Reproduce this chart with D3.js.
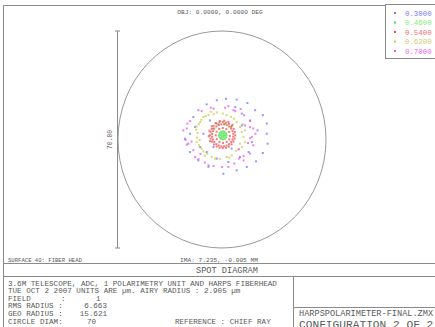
<!DOCTYPE html>
<html>
<head>
<meta charset="utf-8">
<script src="https://cdn.jsdelivr.net/npm/d3@7"></script>
<style>
	html, body { margin: 0; padding: 0; background: #fff; }
	text { font-family: "Liberation Mono", "DejaVu Sans Mono", monospace; fill: #5a5a5a; }
</style>
</head>
<body>
<script>
// wavelengths (um) shown in the legend
const wavelengths = [0.3, 0.46, 0.54, 0.62, 0.7];

// spot positions in um, relative to the chief ray
const spot300 = [
	[1.1, 11.8], [4.7, 11.5], [8.3, 10.4], [-2.0, 11.3], [-5.4, 10.0], [-8.2, 8.1],
	[-9.9, 5.9], [13.5, 6.5], [14.8, 3.8], [6.4, 7.0], [4.2, 9.1], [-11.6, -2.7],
	[-11.0, -5.4], [-8.2, -8.1], [-4.8, -9.7], [4.7, -11.3], [8.1, -10.2], [11.2, -8.4],
	[13.5, -5.7], [15.1, -2.7], [-6.5, 0.5], [-9.3, 2.7], [9.2, 4.8], [11.7, 1.6],
	[9.8, -2.2], [8.7, -5.4], [5.8, -7.0], [1.9, -8.6], [-2.0, -7.5], [-5.4, -5.4],
	[-7.6, -3.8], [0.2, -12.4], [10.9, 8.1], [-11.0, 0.5], [-4.3, 4.8], [6.4, 3.2],
	[3.0, -4.3], [-3.1, -3.8], [-12.7, -1.1], [14.8, 0.5]
];
const spot460 = [
	[0, 0], [0.7, 0], [0.35, 0.61], [-0.35, 0.61], [-0.7, 0], [-0.35, -0.61], [0.35, -0.61],
	[1.3, 0], [1.13, 0.65], [0.65, 1.13], [0, 1.3], [-0.65, 1.13], [-1.13, 0.65],
	[-1.3, 0], [-1.13, -0.65], [-0.65, -1.13], [0, -1.3], [0.65, -1.13], [1.13, -0.65],
	[-1.5, 3.6], [0.8, 3.8], [2.8, 2.6], [-3.2, 2.2]
];
const spot540 = [
	[4.2, 0], [4.06, 1.06], [3.7, 2.1], [3.0, 3.0], [2.1, 3.7], [1.06, 4.1],
	[0, 4.3], [-1.1, 4.2], [-2.1, 3.8], [-3.05, 3.05], [-3.7, 2.1], [-4.1, 1.1],
	[-4.3, 0], [-4.1, -1.06], [-3.65, -2.05], [-2.95, -2.95], [-2.05, -3.6], [-1.06, -4.0],
	[0, -4.1], [1.06, -4.0], [2.05, -3.6], [2.95, -2.9], [3.6, -2.0], [4.0, -1.06],
	[3.55, 0.45], [3.3, 1.35], [2.85, 2.15], [2.15, 2.85], [1.35, 3.3], [0.45, 3.55],
	[-0.45, 3.55], [-1.35, 3.3], [-2.15, 2.85], [-2.85, 2.15], [-3.3, 1.35], [-3.55, 0.45],
	[-3.55, -0.45], [-3.3, -1.35], [-2.85, -2.15], [-2.15, -2.85], [-1.35, -3.3], [-0.45, -3.55],
	[0.45, -3.55], [1.35, -3.3], [2.15, -2.85], [2.85, -2.15], [3.3, -1.35], [3.55, -0.45],
	[-4.5, 1.5], [-3.7, 2.9], [-2.4, 4.0], [-1.0, 4.6], [0.5, 4.7], [-4.7, -0.3],
	[-4.3, -1.9], [1.9, 4.3], [3.3, 3.4],
	[2.4, -0.2], [2.1, 1.1], [1.2, 2.0], [0, 2.35], [-1.2, 2.05], [-2.05, 1.2],
	[-2.35, 0], [-2.0, -1.25], [-1.1, -2.1], [0.1, -2.45], [1.3, -2.1], [2.2, -1.3]
];
const spot620 = [
	[-6.5, 5.9], [-4.8, 6.5], [-3.1, 6.8], [-7.6, 4.3], [-8.8, 2.9], [-8.8, -2.2],
	[-7.1, -4.3], [-6.5, -5.2], [-3.7, -7.0], [-2.6, -7.5], [1.3, -7.0], [3.0, -6.5],
	[5.8, -2.7], [2.2, -7.2], [7.5, -2.2], [1.3, 6.5], [4.7, 4.3], [5.8, 2.7],
	[6.4, 1.1], [7.5, 1.6], [-5.8, 6.2], [-2.0, 7.4], [0.0, 7.0], [2.8, 6.0],
	[-8.0, 3.6], [-8.5, 0.8], [-8.7, -0.8], [-8.0, -3.2], [-5.2, -6.0], [-1.0, -7.6],
	[4.5, -5.0], [6.5, -3.8], [7.0, -0.5], [6.8, 3.6], [-7.2, 5.0], [-4.0, 7.6],
	[-6.0, -6.6], [3.8, 5.4], [5.5, -4.5], [-9.0, 1.8], [-7.8, -1.5]
];
const spot700 = [
	[1.9, 9.4], [4.2, 7.8], [7.2, 6.5], [9.2, 4.6], [7.5, 3.2], [9.2, 2.6],
	[10.3, 2.2], [9.8, -0.5], [9.2, -0.9], [10.3, -3.2], [5.3, -4.5], [7.0, -6.7],
	[7.0, -8.1], [9.2, -5.9], [1.9, -10.2], [3.9, -9.1], [-12.1, -3.0], [-9.9, -4.8],
	[-9.3, -7.0], [-8.2, -7.7], [-4.8, -10.2], [-3.1, -9.9], [-0.3, -10.2], [-7.1, 7.8],
	[-4.0, 8.9], [-3.1, 8.6], [0.8, 8.9], [-11.0, 4.6], [-11.9, 3.8], [-12.1, 2.2],
	[3.6, 8.1], [-13.3, 1.6], [-12.5, -1.5], [-10.5, -2.0], [8.5, -2.5], [11.0, 0.5],
	[-6.0, -8.8], [-7.5, -6.0], [5.5, -7.5], [6.0, 8.5]
];
const spots = [spot300, spot460, spot540, spot620, spot700];

// reference circle (um): centre relative to chief ray, diameter
const circleCenter = [-0.25, -1.35];
const circleDiam = 70;

// header / footer texts
const objLabel = 'OBJ: 0.0000, 0.0000 DEG';
const imaLabel = 'IMA: 7.235, -0.005 MM';
const surfaceLabel = 'SURFACE 40: FIBER HEAD';
const titleLabel = 'SPOT DIAGRAM';
const lensLabel = '3.6M TELESCOPE, ADC, 1 POLARIMETRY UNIT AND HARPS FIBERHEAD';
const dateLabel = 'TUE OCT 2 2007  UNITS ARE \u00b5m.  AIRY RADIUS : 2.905 \u00b5m';
const fieldValue = '1';
const rmsRadius = '6.663';
const geoRadius = '15.621';
const referenceLabel = 'REFERENCE  : CHIEF RAY';
const fileLabel = 'HARPSPOLARIMETER-FINAL.ZMX';
const configLabel = 'CONFIGURATION 2 OF 2';

const colors = ['#7474ff', '#44dd44', '#ee5050', '#cccc4a', '#ee55ee'];
const labelColors = ['#7a7aff', '#88ee77', '#ee7070', '#cccc70', '#ee66ee'];
const lineColor = '#8a8a8a';

const W = 435, H = 327;
const svg = d3.select('body').append('svg')
	.attr('width', W)
	.attr('height', H)
	.attr('xmlns', 'http://www.w3.org/2000/svg');

// plot scales (x and y are not equal on this plot)
const x = d3.scaleLinear().domain([-35.25, 34.75]).range([118, 326]);
const y = d3.scaleLinear().domain([-36.35, 33.65]).range([248, 31]);

// frame
const frame = svg.append('g').attr('stroke', lineColor).attr('stroke-width', 1).attr('fill', 'none');
frame.append('line').attr('x1', 3.5).attr('y1', 5.5).attr('x2', 386).attr('y2', 5.5);
frame.append('line').attr('x1', 3.5).attr('y1', 5.5).attr('x2', 3.5).attr('y2', H);
frame.append('line').attr('x1', 3.5).attr('y1', 263.5).attr('x2', W).attr('y2', 263.5);
frame.append('line').attr('x1', 3.5).attr('y1', 276.5).attr('x2', W).attr('y2', 276.5);
frame.append('line').attr('x1', 293.5).attr('y1', 276.5).attr('x2', 293.5).attr('y2', H);
frame.append('line').attr('x1', 293.5).attr('y1', 307.5).attr('x2', W).attr('y2', 307.5);

// reference circle
const r = circleDiam / 2;
svg.append('ellipse')
	.attr('cx', x(circleCenter[0]))
	.attr('cy', y(circleCenter[1]))
	.attr('rx', x(circleCenter[0] + r) - x(circleCenter[0]))
	.attr('ry', y(circleCenter[1]) - y(circleCenter[1] + r))
	.attr('fill', 'none')
	.attr('stroke', '#999')
	.attr('stroke-width', 1);

// scale bar
const barX = Math.round(x(circleCenter[0] - r)) - 0.5;
const barTop = y(circleCenter[1] + r);
const barBottom = y(circleCenter[1] - r);
const bar = svg.append('g').attr('stroke', lineColor).attr('stroke-width', 1);
bar.append('line').attr('x1', barX).attr('y1', barTop).attr('x2', barX).attr('y2', barBottom);
bar.append('line').attr('x1', barX - 2.5).attr('y1', barTop).attr('x2', barX + 2.5).attr('y2', barTop);
bar.append('line').attr('x1', barX - 2.5).attr('y1', barBottom).attr('x2', barX + 2.5).attr('y2', barBottom);
svg.append('text')
	.attr('transform', `translate(${barX - 6},${(barTop + barBottom) / 2}) rotate(-90)`)
	.attr('text-anchor', 'middle')
	.attr('font-size', 6.5)
	.text(circleDiam.toFixed(2));

// spots
spots.forEach((pts, i) => {
	svg.append('g')
		.selectAll('rect')
		.data(pts)
		.enter()
		.append('rect')
		.attr('x', d => x(d[0]) - 1)
		.attr('y', d => y(d[1]) - 1)
		.attr('width', 2)
		.attr('height', 2)
		.attr('fill', colors[i])
		.attr('opacity', 0.75);
});

// legend
const legend = svg.append('g');
legend.append('rect')
	.attr('x', 385.5).attr('y', 4.5).attr('width', 60).attr('height', 54)
	.attr('fill', '#fff').attr('stroke', lineColor);
const ly = d3.scalePoint().domain(wavelengths).range([13, 51]);
wavelengths.forEach((w, i) => {
	legend.append('rect')
		.attr('x', 394).attr('y', ly(w) - 1)
		.attr('width', 2).attr('height', 2)
		.attr('fill', colors[i]);
	legend.append('text')
		.attr('x', 405).attr('y', ly(w) + 2.5)
		.attr('font-size', 7.4)
		.style('fill', labelColors[i])
		.text(w.toFixed(4));
});

// texts
svg.append('text').attr('x', 220).attr('y', 13.5).attr('text-anchor', 'middle')
	.attr('font-size', 6.2).text(objLabel);
svg.append('text').attr('x', 8).attr('y', 261.5)
	.attr('font-size', 5.6).text(surfaceLabel);
svg.append('text').attr('x', 219).attr('y', 261.5).attr('text-anchor', 'middle')
	.attr('font-size', 6.2).text(imaLabel);
svg.append('text').attr('x', 227).attr('y', 273).attr('text-anchor', 'middle')
	.attr('font-size', 8.6).text(titleLabel);

const fs = 7.6;
const info = svg.append('g').attr('font-size', fs);
info.append('text').attr('x', 8).attr('y', 286).text(lensLabel);
info.append('text').attr('x', 8).attr('y', 293).text(dateLabel);
info.append('text').attr('x', 8).attr('y', 300.5).text('FIELD');
info.append('text').attr('x', 61).attr('y', 300.5).text(':');
info.append('text').attr('x', 96).attr('y', 300.5).text(fieldValue);
info.append('text').attr('x', 8).attr('y', 308).text('RMS RADIUS :');
info.append('text').attr('x', 107).attr('y', 308).attr('text-anchor', 'end').text(rmsRadius);
info.append('text').attr('x', 8).attr('y', 315.5).text('GEO RADIUS :');
info.append('text').attr('x', 107).attr('y', 315.5).attr('text-anchor', 'end').text(geoRadius);
info.append('text').attr('x', 8).attr('y', 323.5).text('CIRCLE DIAM:');
info.append('text').attr('x', 87).attr('y', 323.5).text(String(circleDiam));
info.append('text').attr('x', 175).attr('y', 323.5).text(referenceLabel);

svg.append('text').attr('x', 299).attr('y', 316).attr('font-size', 8.6).text(fileLabel);
svg.append('text').attr('x', 299).attr('y', 328).attr('font-size', 11.2).text(configLabel);
</script>
</body>
</html>
